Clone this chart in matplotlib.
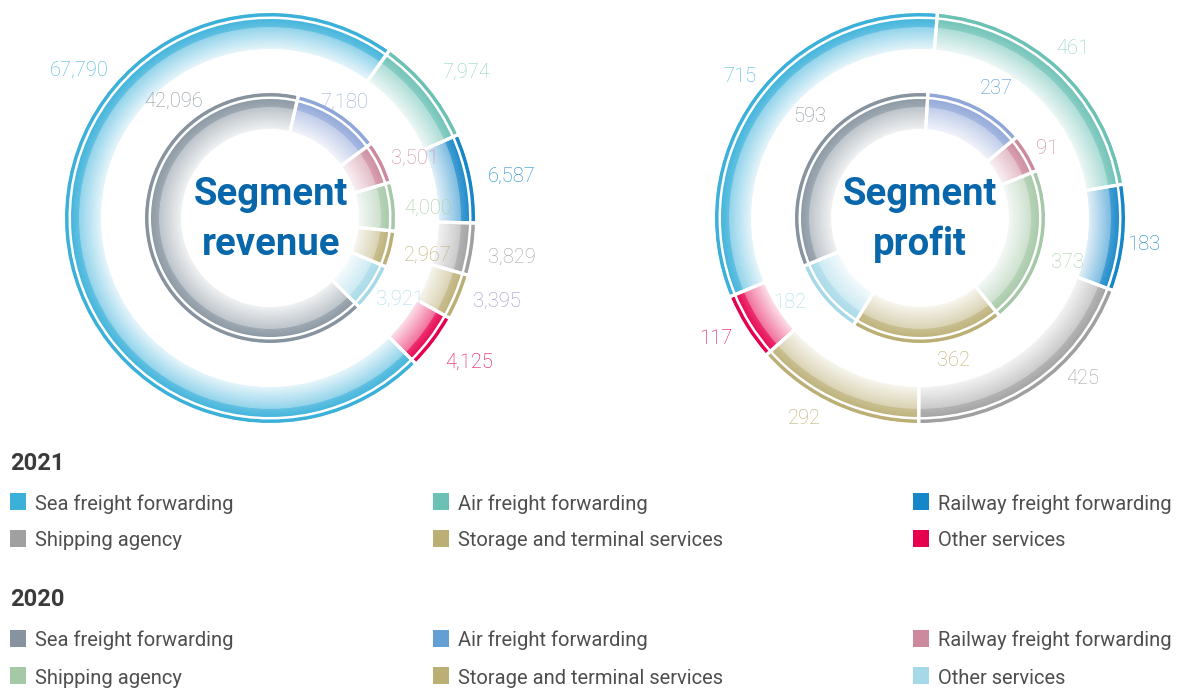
import numpy as np
import matplotlib.pyplot as plt
from matplotlib.colors import to_rgb
from matplotlib.patches import Rectangle

# --- data ---
segments = ["Sea freight forwarding", "Air freight forwarding", "Railway freight forwarding",
            "Shipping agency", "Storage and terminal services", "Other services"]

revenue_2021 = [67790, 7974, 6587, 3829, 3395, 4125]
revenue_2020 = [42096, 7180, 3501, 4000, 2967, 3921]
profit_2021 = [715, 461, 183, 425, 292, 117]
profit_2020 = [593, 237, 91, 373, 362, 182]

revenue_2021_labels = ["67,790", "7,974", "6,587", "3,829", "3,395", "4,125"]
revenue_2020_labels = ["42,096", "7,180", "3,501", "4,000", "2,967", "3,921"]
profit_2021_labels = ["715", "461", "183", "425", "292", "117"]
profit_2020_labels = ["593", "237", "91", "373", "362", "182"]

# --- styles ---
colors_2021 = ["#3BB1DA", "#6CC1B5", "#1586C8", "#A0A0A0", "#BCAF76", "#E6004D"]
colors_2020 = ["#87949F", "#8FA6D8", "#CD899D", "#A5C8A7", "#BCAF76", "#A6D9E8"]
legend_2021 = ["#3BB1DA", "#6CC1B5", "#1586C8", "#A0A0A0", "#BCAF76", "#E6004D"]
legend_2020 = ["#87949F", "#639FD2", "#CD899D", "#A5C8A7", "#BCAF76", "#A6D9E8"]

rev_lbl_2021 = ["#45B4DC", "#8ED2C6", "#1C8ACB", "#A3A3A3", "#9C95CF", "#E5004F"]
rev_lbl_2020 = ["#8B949B", "#9BAAD8", "#D08CA1", "#A9CCA9", "#BDAE6F", "#A9DCEA"]
pro_lbl_2021 = ["#45B4DC", "#8ED2C6", "#1C8ACB", "#A3A3A3", "#BDAE6F", "#E5004F"]
pro_lbl_2020 = ["#8B949B", "#4C9AD6", "#C9849A", "#A9CCA9", "#BDAE6F", "#A9DCEA"]

# label positions in pixels (x, y from top)
rev_pos_2021 = [(79, 70), (466, 72), (512, 176), (512, 257), (497, 301), (469, 362)]
rev_pos_2020 = [(174, 101), (344, 102), (415, 158), (428, 208), (428, 255), (400, 299)]
pro_pos_2021 = [(740, 76), (1073, 48), (1144, 245), (1083, 378), (804, 418), (716, 339)]
pro_pos_2020 = [(810, 116), (996, 88), (1047, 148), (1068, 262), (953, 361), (790, 303)]

W, H = 1184, 688


def Y(y):
    return H - y


def blend(c, m):
    r, g, b = to_rgb(c)
    return (1 - m + m * r, 1 - m + m * g, 1 - m + m * b)


def draw_ring(ax, values, colors, center, start, r_out, band=30, thin=3.5, gap=2.5, steps=26):
    common = dict(center=center, startangle=start, counterclock=False, frame=False)
    # thin outer band
    ax.pie(values, colors=colors, radius=r_out, wedgeprops=dict(width=thin, linewidth=0), **common)
    r_top = r_out - thin - gap
    dr = band / steps
    for k in range(steps):
        t = (k + 0.5) / steps
        if t < 0.28:
            m = 0.95 - 0.15 * t / 0.28
        else:
            m = 0.55 - 0.42 * (t - 0.28) / 0.72
        cols = [blend(c, m) for c in colors]
        w = dr * 1.6 if k < steps - 1 else dr
        ax.pie(values, colors=cols, radius=r_top - k * dr, wedgeprops=dict(width=w, linewidth=0), **common)
    # white separators
    ax.pie(values, colors=["none"] * len(values), radius=r_out + 2,
           wedgeprops=dict(width=r_out + 4 - (r_top - band), edgecolor="white", linewidth=2.3), **common)


fig = plt.figure(figsize=(11.84, 6.88), dpi=100)
ax = fig.add_axes([0, 0, 1, 1])

rev_c = (270, Y(218))
pro_c = (920, Y(218))

draw_ring(ax, revenue_2021, colors_2021, rev_c, -45, 205)
draw_ring(ax, revenue_2020, colors_2020, rev_c, -45, 125)
draw_ring(ax, profit_2021, colors_2021, pro_c, -157.5, 205)
draw_ring(ax, profit_2020, colors_2020, pro_c, -157.5, 125)

lbl_font = dict(family=["Roboto", "DejaVu Sans"], weight="light", fontsize=14.5, ha="center", va="center")
for labels, cols, pos in [(revenue_2021_labels, rev_lbl_2021, rev_pos_2021),
                          (revenue_2020_labels, rev_lbl_2020, rev_pos_2020),
                          (profit_2021_labels, pro_lbl_2021, pro_pos_2021),
                          (profit_2020_labels, pro_lbl_2020, pro_pos_2020)]:
    for s, c, (x, y) in zip(labels, cols, pos):
        ax.text(x, Y(y), s, color=c, **lbl_font)

title_font = dict(family=["Roboto", "DejaVu Sans"], weight="bold", fontsize=27.5, color="#0867AA",
                  ha="center", va="baseline")
ax.text(271, Y(205), "Segment", **title_font)
ax.text(271, Y(255), "revenue", **title_font)
ax.text(920, Y(205), "Segment", **title_font)
ax.text(920, Y(255), "profit", **title_font)

# legend
col_x = [10, 433, 913]
head_font = dict(family=["Roboto", "DejaVu Sans"], weight="bold", fontsize=17, color="#3A3A3A",
                 ha="left", va="center")
leg_font = dict(family=["Roboto", "DejaVu Sans"], weight="normal", fontsize=14.5, color="#4E4E4E",
                ha="left", va="baseline")
for year, cols, head_y, rows in [("2021", legend_2021, 463, (501, 538)),
                                 ("2020", legend_2020, 599, (638, 675))]:
    ax.text(10, Y(head_y), year, **head_font)
    for i, (name, c) in enumerate(zip(segments, cols)):
        x = col_x[i % 3]
        y = rows[i // 3]
        ax.add_patch(Rectangle((x, Y(y + 8.5)), 16, 16.5, facecolor=c, edgecolor="none"))
        ax.text(x + 25, Y(y + 8.5), name, **leg_font)

ax.set_xlim(0, W)
ax.set_ylim(0, H)
ax.set_aspect("equal")
ax.axis("off")

plt.savefig("out.png", dpi=100, facecolor="white")
